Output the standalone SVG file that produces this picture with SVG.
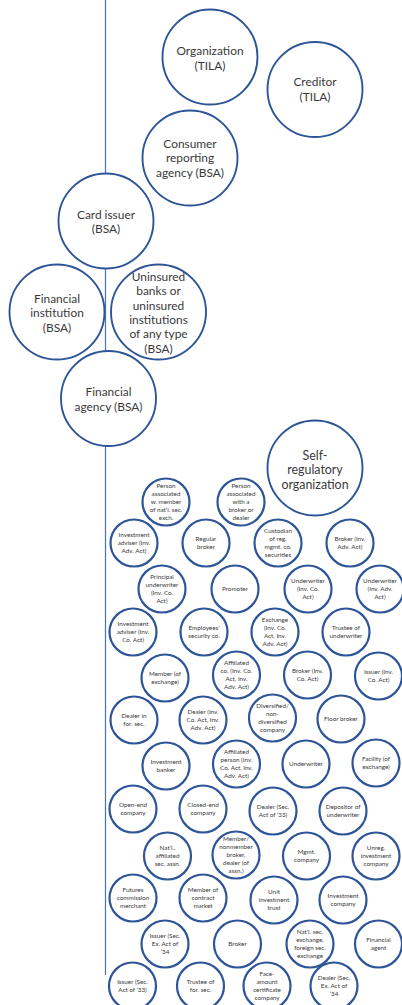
<svg xmlns="http://www.w3.org/2000/svg" width="402" height="1005" viewBox="0 0 402 1005">
<style>
.big{fill:#fff;stroke:#2E5597;stroke-width:1.9}
.sm{fill:#fff;stroke:#2E5597;stroke-width:2.2}
.bt{font-family:Lato,"Liberation Sans",sans-serif;font-size:11.9px;fill:#3a3a3a;text-anchor:middle}
.st{font-family:Lato,"Liberation Sans",sans-serif;font-size:6.3px;fill:#3a3a3a;text-anchor:middle}
.conn{stroke:#4472C4;stroke-width:1.2;fill:none}
</style>
<rect width="402" height="1005" fill="#fff"/>
<g id="connectors">
<line class="conn" x1="105.5" y1="0" x2="105.5" y2="975"/>
</g>
<g id="organization-tila"><circle class="big" cx="210" cy="57" r="47.5"/><text class="bt" x="210"><tspan x="210" y="55">Organization</tspan><tspan x="210" y="69.7">(TILA)</tspan></text></g>
<g id="creditor-tila"><circle class="big" cx="315" cy="89.5" r="47.5"/><text class="bt"><tspan x="315" y="86">Creditor</tspan><tspan x="315" y="100.7">(TILA)</tspan></text></g>
<g id="consumer-reporting"><circle class="big" cx="190" cy="158" r="47.5"/><text class="bt"><tspan x="190" y="147.7">Consumer</tspan><tspan x="190" y="162.4">reporting</tspan><tspan x="190" y="177.1">agency (BSA)</tspan></text></g>
<g id="card-issuer"><circle class="big" cx="106" cy="221" r="47.5"/><text class="bt"><tspan x="106" y="218.5">Card issuer</tspan><tspan x="106" y="233.2">(BSA)</tspan></text></g>
<g id="financial-institution"><circle class="big" cx="57" cy="312" r="47.5"/><text class="bt"><tspan x="57" y="302.7">Financial</tspan><tspan x="57" y="317.4">institution</tspan><tspan x="57" y="332.1">(BSA)</tspan></text></g>
<g id="uninsured-banks"><circle class="big" cx="158.5" cy="312" r="47.5"/><text class="bt"><tspan x="158.5" y="281">Uninsured</tspan><tspan x="158.5" y="295.3">banks or</tspan><tspan x="158.5" y="309.6">uninsured</tspan><tspan x="158.5" y="323.9">institutions</tspan><tspan x="158.5" y="338.2">of any type</tspan><tspan x="158.5" y="352.5">(BSA)</tspan></text></g>
<g id="financial-agency"><circle class="big" cx="108.5" cy="398.5" r="47.5"/><text class="bt"><tspan x="108.5" y="396">Financial</tspan><tspan x="108.5" y="410.7">agency (BSA)</tspan></text></g>
<g id="self-regulatory"><circle class="big" cx="315" cy="468" r="47.5"/><text class="bt" style="font-size:12.4px"><tspan x="315" y="459.5">Self-</tspan><tspan x="315" y="474.2">regulatory</tspan><tspan x="315" y="488.9">organization</tspan></text></g>

<g id="n1"><circle class="sm" cx="166" cy="502" r="23.5"/><text class="st"><tspan x="166" y="488.3">Person</tspan><tspan x="166" y="496.3">associated</tspan><tspan x="166" y="504.3">w. member</tspan><tspan x="166" y="512.3">of nat’l. sec.</tspan><tspan x="166" y="520.3">exch.</tspan></text></g>
<g id="n2"><circle class="sm" cx="241" cy="502" r="23.5"/><text class="st"><tspan x="241" y="488.3">Person</tspan><tspan x="241" y="496.3">associated</tspan><tspan x="241" y="504.3">with a</tspan><tspan x="241" y="512.3">broker or</tspan><tspan x="241" y="520.3">dealer</tspan></text></g>
<g id="n3"><circle class="sm" cx="134" cy="543" r="23.5"/><text class="st"><tspan x="134" y="537.3">Investment</tspan><tspan x="134" y="545.3">adviser (Inv.</tspan><tspan x="134" y="553.3">Adv. Act)</tspan></text></g>
<g id="n4"><circle class="sm" cx="206" cy="543" r="23.5"/><text class="st"><tspan x="206" y="541.3">Regular</tspan><tspan x="206" y="549.3">broker</tspan></text></g>
<g id="n5"><circle class="sm" cx="278" cy="543" r="23.5"/><text class="st"><tspan x="278" y="533.3">Custodian</tspan><tspan x="278" y="541.3">of reg.</tspan><tspan x="278" y="549.3">mgmt. co.</tspan><tspan x="278" y="557.3">securities</tspan></text></g>
<g id="n6"><circle class="sm" cx="350" cy="543" r="23.5"/><text class="st"><tspan x="350" y="541.3">Broker (Inv.</tspan><tspan x="350" y="549.3">Adv. Act)</tspan></text></g>
<g id="n7"><circle class="sm" cx="162" cy="589" r="23.5"/><text class="st"><tspan x="162" y="579.3">Principal</tspan><tspan x="162" y="587.3">underwriter</tspan><tspan x="162" y="595.3">(Inv. Co.</tspan><tspan x="162" y="603.3">Act)</tspan></text></g>
<g id="n8"><circle class="sm" cx="235" cy="589" r="23.5"/><text class="st"><tspan x="235" y="591.3">Promoter</tspan></text></g>
<g id="n9"><circle class="sm" cx="308" cy="589" r="23.5"/><text class="st"><tspan x="308" y="583.3">Underwriter</tspan><tspan x="308" y="591.3">(Inv. Co.</tspan><tspan x="308" y="599.3">Act)</tspan></text></g>
<g id="n10"><circle class="sm" cx="380" cy="589" r="23.5"/><text class="st"><tspan x="380" y="583.3">Underwriter</tspan><tspan x="380" y="591.3">(Inv. Adv.</tspan><tspan x="380" y="599.3">Act)</tspan></text></g>
<g id="n11"><circle class="sm" cx="133" cy="632" r="23.5"/><text class="st"><tspan x="133" y="626.3">Investment</tspan><tspan x="133" y="634.3">adviser (Inv.</tspan><tspan x="133" y="642.3">Co. Act)</tspan></text></g>
<g id="n12"><circle class="sm" cx="204" cy="632" r="23.5"/><text class="st"><tspan x="204" y="630.3">Employees’</tspan><tspan x="204" y="638.3">security co.</tspan></text></g>
<g id="n13"><circle class="sm" cx="275" cy="632" r="23.5"/><text class="st"><tspan x="275" y="622.3">Exchange</tspan><tspan x="275" y="630.3">(Inv. Co.</tspan><tspan x="275" y="638.3">Act, Inv.</tspan><tspan x="275" y="646.3">Adv. Act)</tspan></text></g>
<g id="n14"><circle class="sm" cx="346" cy="632" r="23.5"/><text class="st"><tspan x="346" y="630.3">Trustee of</tspan><tspan x="346" y="638.3">underwriter</tspan></text></g>
<g id="n15"><circle class="sm" cx="165" cy="678" r="23.5"/><text class="st"><tspan x="165" y="676.3">Member (of</tspan><tspan x="165" y="684.3">exchange)</tspan></text></g>
<g id="n16"><circle class="sm" cx="236.5" cy="675" r="23.5"/><text class="st"><tspan x="236.5" y="665.3">Affiliated</tspan><tspan x="236.5" y="673.3">co. (Inv. Co.</tspan><tspan x="236.5" y="681.3">Act, Inv.</tspan><tspan x="236.5" y="689.3">Adv. Act)</tspan></text></g>
<g id="n17"><circle class="sm" cx="307.5" cy="675" r="23.5"/><text class="st"><tspan x="307.5" y="673.3">Broker (Inv.</tspan><tspan x="307.5" y="681.3">Co. Act)</tspan></text></g>
<g id="n18"><circle class="sm" cx="378.5" cy="676" r="23.5"/><text class="st"><tspan x="378.5" y="674.3">Issuer (Inv.</tspan><tspan x="378.5" y="682.3">Co. Act)</tspan></text></g>
<g id="n19"><circle class="sm" cx="134" cy="720" r="23.5"/><text class="st"><tspan x="134" y="718.3">Dealer in</tspan><tspan x="134" y="726.3">for. sec.</tspan></text></g>
<g id="n20"><circle class="sm" cx="203" cy="720" r="23.5"/><text class="st"><tspan x="203" y="714.3">Dealer (Inv.</tspan><tspan x="203" y="722.3">Co. Act, Inv.</tspan><tspan x="203" y="730.3">Adv. Act)</tspan></text></g>
<g id="n21"><circle class="sm" cx="272.5" cy="718" r="23.5"/><text class="st"><tspan x="272.5" y="708.3">Diversified/</tspan><tspan x="272.5" y="716.3">non-</tspan><tspan x="272.5" y="724.3">diversified</tspan><tspan x="272.5" y="732.3">company</tspan></text></g>
<g id="n22"><circle class="sm" cx="341" cy="719" r="23.5"/><text class="st"><tspan x="341" y="721.3">Floor broker</tspan></text></g>
<g id="n23"><circle class="sm" cx="166" cy="766" r="23.5"/><text class="st"><tspan x="166" y="764.3">Investment</tspan><tspan x="166" y="772.3">banker</tspan></text></g>
<g id="n24"><circle class="sm" cx="236.5" cy="764" r="23.5"/><text class="st"><tspan x="236.5" y="754.3">Affiliated</tspan><tspan x="236.5" y="762.3">person (Inv.</tspan><tspan x="236.5" y="770.3">Co. Act, Inv.</tspan><tspan x="236.5" y="778.3">Adv. Act)</tspan></text></g>
<g id="n25"><circle class="sm" cx="306" cy="764" r="23.5"/><text class="st"><tspan x="306" y="766.3">Underwriter</tspan></text></g>
<g id="n26"><circle class="sm" cx="376" cy="763" r="23.5"/><text class="st"><tspan x="376" y="761.3">Facility (of</tspan><tspan x="376" y="769.3">exchange)</tspan></text></g>
<g id="n27"><circle class="sm" cx="133" cy="809" r="23.5"/><text class="st"><tspan x="133" y="807.3">Open-end</tspan><tspan x="133" y="815.3">company</tspan></text></g>
<g id="n28"><circle class="sm" cx="203" cy="809" r="23.5"/><text class="st"><tspan x="203" y="807.3">Closed-end</tspan><tspan x="203" y="815.3">company</tspan></text></g>
<g id="n29"><circle class="sm" cx="273" cy="811" r="23.5"/><text class="st"><tspan x="273" y="809.3">Dealer (Sec.</tspan><tspan x="273" y="817.3">Act of ’33)</tspan></text></g>
<g id="n30"><circle class="sm" cx="343" cy="811" r="23.5"/><text class="st"><tspan x="343" y="809.3">Depositor of</tspan><tspan x="343" y="817.3">underwriter</tspan></text></g>
<g id="n31"><circle class="sm" cx="167.5" cy="856" r="23.5"/><text class="st"><tspan x="167.5" y="850.3">Nat’l.,</tspan><tspan x="167.5" y="858.3">affiliated</tspan><tspan x="167.5" y="866.3">sec. assn.</tspan></text></g>
<g id="n32"><circle class="sm" cx="236" cy="855" r="23.5"/><text class="st"><tspan x="236" y="841.3">Member/</tspan><tspan x="236" y="849.3">nonmember</tspan><tspan x="236" y="857.3">broker,</tspan><tspan x="236" y="865.3">dealer (of</tspan><tspan x="236" y="873.3">assn.)</tspan></text></g>
<g id="n33"><circle class="sm" cx="306.5" cy="856" r="23.5"/><text class="st"><tspan x="306.5" y="854.3">Mgmt.</tspan><tspan x="306.5" y="862.3">company</tspan></text></g>
<g id="n34"><circle class="sm" cx="376" cy="856" r="23.5"/><text class="st"><tspan x="376" y="850.3">Unreg.</tspan><tspan x="376" y="858.3">investment</tspan><tspan x="376" y="866.3">company</tspan></text></g>
<g id="n35"><circle class="sm" cx="133" cy="898" r="23.5"/><text class="st"><tspan x="133" y="892.3">Futures</tspan><tspan x="133" y="900.3">commission</tspan><tspan x="133" y="908.3">merchant</tspan></text></g>
<g id="n36"><circle class="sm" cx="203" cy="898" r="23.5"/><text class="st"><tspan x="203" y="892.3">Member of</tspan><tspan x="203" y="900.3">contract</tspan><tspan x="203" y="908.3">market</tspan></text></g>
<g id="n37"><circle class="sm" cx="274" cy="900" r="23.5"/><text class="st"><tspan x="274" y="894.3">Unit</tspan><tspan x="274" y="902.3">investment</tspan><tspan x="274" y="910.3">trust</tspan></text></g>
<g id="n38"><circle class="sm" cx="343" cy="900" r="23.5"/><text class="st"><tspan x="343" y="898.3">Investment</tspan><tspan x="343" y="906.3">company</tspan></text></g>
<g id="n39"><circle class="sm" cx="165" cy="944" r="23.5"/><text class="st"><tspan x="165" y="938.3">Issuer (Sec.</tspan><tspan x="165" y="946.3">Ex. Act of</tspan><tspan x="165" y="954.3">’34</tspan></text></g>
<g id="n40"><circle class="sm" cx="237.5" cy="944" r="23.5"/><text class="st"><tspan x="237.5" y="946.3">Broker</tspan></text></g>
<g id="n41"><circle class="sm" cx="310" cy="944" r="23.5"/><text class="st"><tspan x="310" y="934.3">Nat’l. sec.</tspan><tspan x="310" y="942.3">exchange,</tspan><tspan x="310" y="950.3">foreign sec.</tspan><tspan x="310" y="958.3">exchange</tspan></text></g>
<g id="n42"><circle class="sm" cx="378.5" cy="944" r="23.5"/><text class="st"><tspan x="378.5" y="942.3">Financial</tspan><tspan x="378.5" y="950.3">agent</tspan></text></g>
<g id="n43"><circle class="sm" cx="132.5" cy="986" r="23.5"/><text class="st"><tspan x="132.5" y="984.3">Issuer (Sec.</tspan><tspan x="132.5" y="992.3">Act of ’33)</tspan></text></g>
<g id="n44"><circle class="sm" cx="200.5" cy="986" r="23.5"/><text class="st"><tspan x="200.5" y="984.3">Trustee of</tspan><tspan x="200.5" y="992.3">for. sec.</tspan></text></g>
<g id="n45"><circle class="sm" cx="267" cy="986" r="23.5"/><text class="st"><tspan x="267" y="976.3">Face-</tspan><tspan x="267" y="984.3">amount</tspan><tspan x="267" y="992.3">certificate</tspan><tspan x="267" y="1000.3">company</tspan></text></g>
<g id="n46"><circle class="sm" cx="334" cy="986" r="23.5"/><text class="st"><tspan x="334" y="980.3">Dealer (Sec.</tspan><tspan x="334" y="988.3">Ex. Act of</tspan><tspan x="334" y="996.3">’34</tspan></text></g>
</svg>
